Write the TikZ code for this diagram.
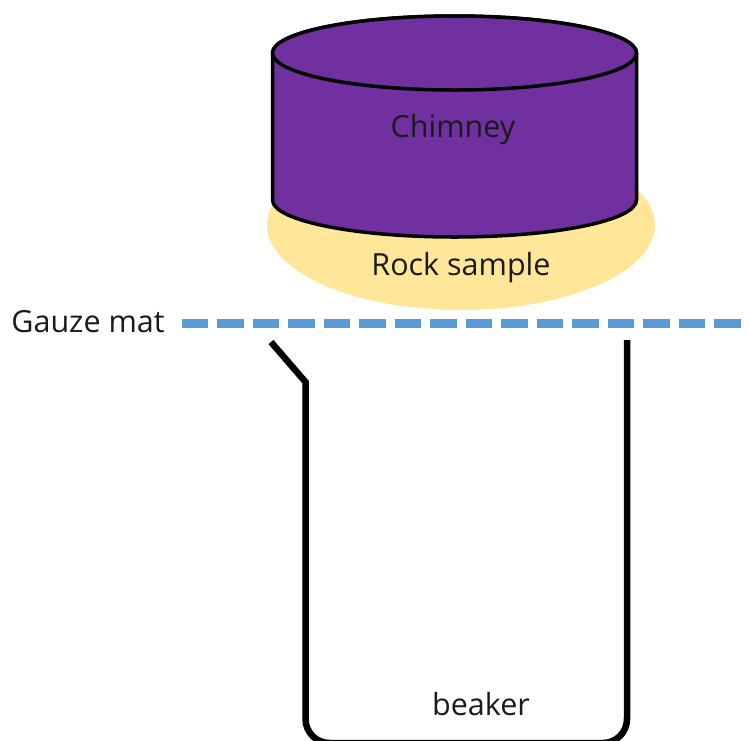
\documentclass[tikz,border=0pt]{standalone}
\usepackage{fontspec}
\setmainfont{Open Sans}
\definecolor{chimneypurple}{HTML}{7030A0}
\definecolor{rockyellow}{HTML}{FFE699}
\definecolor{gauzeblue}{HTML}{5B9BD5}
\definecolor{inkdark}{HTML}{1A1A1A}
\tikzset{
  outline/.style={draw=black,line width=3.5pt,fill=chimneypurple,line join=round},
  label text/.style={text=inkdark,inner sep=0pt,font=\fontsize{30.5}{36}\selectfont,anchor=base},
  beaker wall/.style={draw=black,line width=6.5pt},
  gauze/.style={draw=gauzeblue,line width=9pt,dash pattern=on 26.7pt off 8.8pt}
}
\begin{document}
\begin{tikzpicture}[x=1pt,y=-1pt]
\useasboundingbox (0,0) rectangle (749,740);
\clip (0,0) rectangle (749,740);
\fill[white] (0,0) rectangle (749,740);
% rock sample
\fill[rockyellow] (461,225) ellipse [x radius=194,y radius=85];
% chimney
\path[outline] (272.5,53) -- (272.5,200) arc [start angle=180,end angle=0,x radius=182,y radius=37]
  -- (636.5,53) arc [start angle=0,end angle=-180,x radius=182,y radius=37] -- cycle;
\path[outline] (454.5,53) ellipse [x radius=182,y radius=37];
% gauze mat
\coordinate (gauzeL) at (181.5,323);
\coordinate (gauzeR) at (742,323);
\draw[gauze] (gauzeL) -- (gauzeR);
% beaker
\draw[beaker wall,line join=miter] (271,342) -- (305.5,382) -- (305.5,719)
  arc [start angle=180,end angle=90,radius=24] -- (603,743)
  arc [start angle=90,end angle=0,radius=24] -- (627,340);
% labels
\node[label text] (chimney) at (453,137) {Chimney};
\node[label text] (rock) at (461,275) {Rock sample};
\node[label text] (mat) at (88,332) {Gauze mat};
\node[label text] (beaker) at (481,715) {beaker};
\end{tikzpicture}
\end{document}
